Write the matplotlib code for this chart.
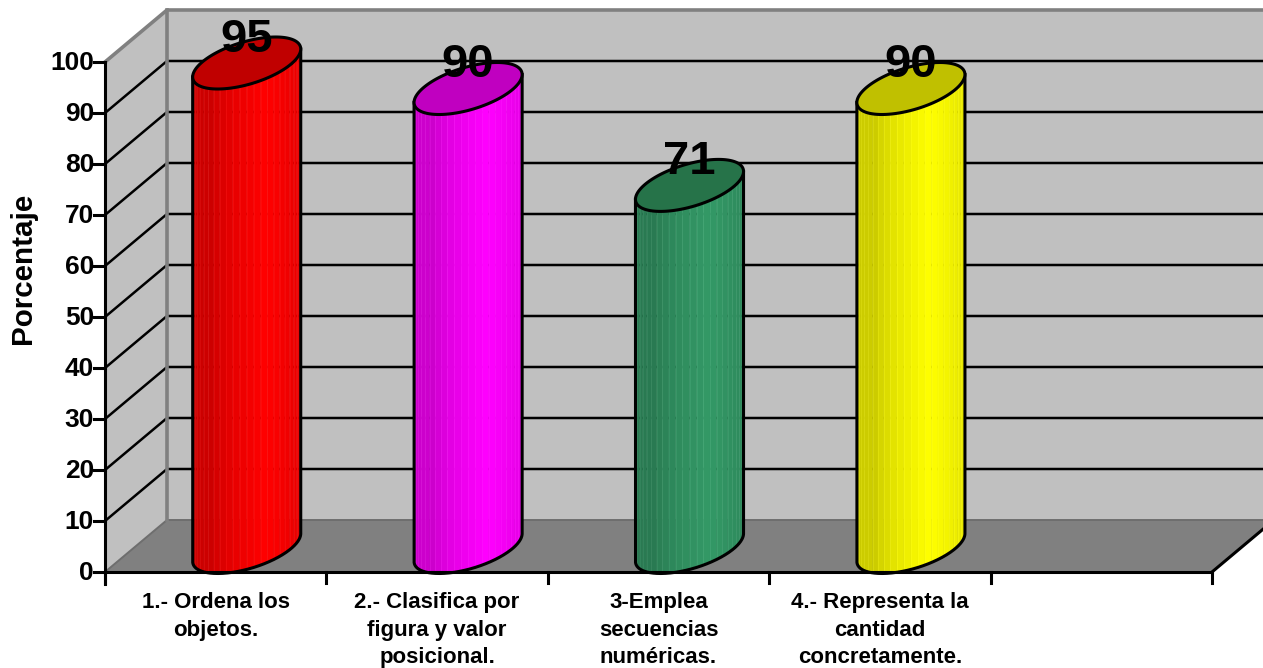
import numpy as np
import matplotlib
matplotlib.use('Agg')
import matplotlib.pyplot as plt
from matplotlib.patches import Polygon

plt.rcParams['font.family'] = ['Liberation Sans', 'DejaVu Sans']

categories = ['1.- Ordena los\nobjetos.', '2.- Clasifica por\nfigura y valor\nposicional.',
              '3-Emplea\nsecuencias\nnuméricas.', '4.- Representa la\ncantidad\nconcretamente.', '']
values = [95, 90, 71, 90]
body_colors = ['#FF0000', '#FF00FF', '#339966', '#FFFF00']
top_colors = ['#C00000', '#C000C0', '#267349', '#C0C000']
y_ticks = list(range(0, 101, 10))

# chart frame in pixels
x0, x1 = 105, 1212
y0, y100 = 572, 62
dx, dy = 62, -52
cat_w = (x1 - x0) / 5
unit = (y0 - y100) / 100
wall = '#C0C0C0'
floor = '#808080'

fig = plt.figure(figsize=(12.63, 6.68), dpi=100)
ax = fig.add_axes([0, 0, 1, 1])
ax.set_xlim(0, 1263)
ax.set_ylim(668, 0)
ax.axis('off')


def py(v):
    return y0 - v * unit


# walls and floor
ax.add_patch(Polygon([(x0, py(100)), (x0 + dx, py(100) + dy), (x0 + dx, y0 + dy), (x0, y0)], fc=wall, ec='none', zorder=1))
ax.add_patch(Polygon([(x0 + dx, py(100) + dy), (x1 + dx, py(100) + dy), (x1 + dx, y0 + dy), (x0 + dx, y0 + dy)], fc=wall, ec='none', zorder=1))
ax.add_patch(Polygon([(x0, y0), (x0 + dx, y0 + dy), (x1 + dx, y0 + dy), (x1, y0)], fc=floor, ec='none', zorder=1))

# gridlines run along the side wall and the back wall
for v in y_ticks[1:-1]:
    ax.plot([x0, x0 + dx, x1 + dx], [py(v), py(v) + dy, py(v) + dy], color='black', lw=1.8, zorder=2, solid_joinstyle='miter')
ax.plot([x0, x0 + dx, x1 + dx], [py(100), py(100) + dy, py(100) + dy], color='#808080', lw=2.6, zorder=2)
ax.plot([x0, x0 + dx, x1 + dx], [y0, y0 + dy, y0 + dy], color='#6E6E6E', lw=1.4, zorder=2)
ax.plot([x0 + dx, x0 + dx], [py(100) + dy, y0 + dy], color='#808080', lw=2.6, zorder=2)
ax.plot([x1, x1 + dx], [y0, y0 + dy], color='black', lw=2.2, zorder=2)

# axis lines and ticks
ax.plot([x0, x0], [py(100), y0 + 12], color='black', lw=2.2, zorder=6)
ax.plot([x0, x1], [y0, y0], color='black', lw=2.2, zorder=6)
for v in y_ticks:
    ax.plot([x0 - 11, x0], [py(v), py(v)], color='black', lw=2.2, zorder=6)
    ax.text(x0 - 11, py(v) + 1, str(v), ha='right', va='center', fontsize=19, fontweight='bold', zorder=7)
for i in range(6):
    ax.plot([x0 + i * cat_w] * 2, [y0, y0 + 11], color='black', lw=2.2, zorder=6)
for i, label in enumerate(categories):
    ax.text(x0 + (i + 0.5) * cat_w, 592, label, ha='center', va='top', fontsize=16, fontweight='bold', linespacing=1.42, zorder=7)
ax.text(23, 268, 'Porcentaje', rotation=90, ha='center', va='center', fontsize=21.3, fontweight='bold')

# cylinders: a circle sheared into the depth direction
half_w = 45.6
depth_x, depth_y = 29, -26
n_facets = 24


def outline(t):
    return half_w * np.cos(t) + depth_x * np.sin(t), depth_y * np.sin(t)


def shade(color, s):
    # darker towards the edges, brightest a little right of centre
    k = 0.80 + 0.20 * np.clip(1 - abs(s - 0.68) / 0.5, 0, 1) ** 0.7
    return tuple(np.array(matplotlib.colors.to_rgb(color)) * k)


for i, v in enumerate(values):
    cx = x0 + (i + 0.5) * cat_w + dx / 2
    cy = y0 - 24.5
    top = cy - v * unit
    # the front side runs from the left silhouette round the near edge to the right one
    t_split = np.arctan2(depth_x, half_w)
    t = np.linspace(np.pi + t_split, 2 * np.pi + t_split, n_facets * 8 + 1)
    ex, ey = outline(t)
    span = ex.max() - ex.min()
    for k in range(n_facets):
        part = slice(k * 8, (k + 1) * 8 + 1)
        fx = cx + ex[part]
        c = shade(body_colors[i], (ex[part].mean() - ex.min()) / span)
        ax.fill(np.r_[fx, fx[::-1]], np.r_[cy + ey[part], (top + ey[part])[::-1]], color=c, lw=0.3, zorder=3)
        if k > 0:
            # faint seam between two facets
            light = tuple(min(1, ch + 0.1) for ch in c)
            ax.plot([fx[0], fx[0]], [top + ey[part][0], cy + ey[part][0]], color=light, lw=0.5, alpha=0.6, zorder=3.1)
    # outline of the side
    ax.plot(np.r_[cx + ex[0], cx + ex, cx + ex[-1]], np.r_[top + ey[0], cy + ey, top + ey[-1]],
            color='black', lw=2.2, zorder=4, solid_joinstyle='round')
    # top cap
    cap_x, cap_y = outline(np.linspace(0, 2 * np.pi, 241))
    ax.fill(cx + cap_x, top + cap_y, fc=top_colors[i], ec='black', lw=2.2, zorder=5)
    ax.text(cx, top - 23.5, str(v), ha='center', va='center', fontsize=34, fontweight='bold', zorder=8)

fig.savefig('out.png', dpi=100)
